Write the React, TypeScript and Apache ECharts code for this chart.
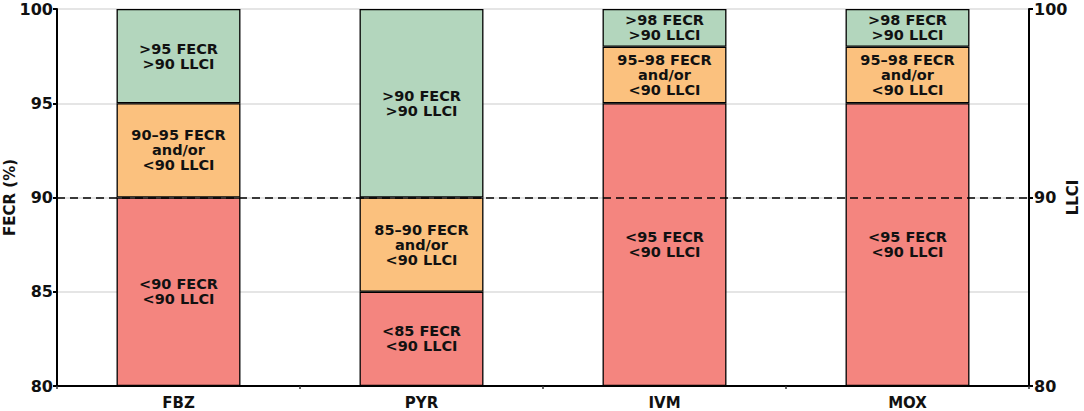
import React, { useEffect, useRef } from "react";
import * as echarts from "echarts";

const categories = ["FBZ", "PYR", "IVM", "MOX"];
const baseValues = [80, 80, 80, 80];
const redValues = [10, 5, 15, 15];
const orangeValues = [5, 5, 3, 3];
const greenValues = [5, 10, 2, 2];
const redLabels = ["<90 FECR\n<90 LLCI", "<85 FECR\n<90 LLCI", "<95 FECR\n<90 LLCI", "<95 FECR\n<90 LLCI"];
const orangeLabels = ["90–95 FECR\nand/or\n<90 LLCI", "85–90 FECR\nand/or\n<90 LLCI", "95–98 FECR\nand/or\n<90 LLCI", "95–98 FECR\nand/or\n<90 LLCI"];
const greenLabels = [">95 FECR\n>90 LLCI", ">90 FECR\n>90 LLCI", ">98 FECR\n>90 LLCI", ">98 FECR\n>90 LLCI"];
const leftTicks = [80, 85, 90, 95, 100];
const rightTicks = [80, 90, 100];
const thresholdValue = 90;

const FONT = "DejaVu Sans";

export default function App() {
  const ref = useRef<HTMLDivElement>(null);
  useEffect(() => {
    if (!ref.current) return;
    const chart = echarts.init(ref.current, undefined, { renderer: "svg" });
    const seg = (name: string, values: number[], labels: string[], color: string) => ({
      name,
      type: "bar",
      stack: "s",
      barWidth: "51%",
      z: 3,
      data: values,
      itemStyle: { color, borderColor: "#000", borderWidth: 1.3 },
      label: {
        show: true,
        position: "inside",
        formatter: (p: any) => labels[p.dataIndex],
        color: "#111",
        fontFamily: FONT,
        fontWeight: "bold",
        fontSize: 14.5,
        lineHeight: 15,
      },
    });
    chart.setOption({
      animation: false,
      grid: { left: 57, right: 55, top: 9, bottom: 25, containLabel: false, outerBoundsMode: "none" },
      xAxis: {
        type: "category",
        data: categories,
        axisLine: { lineStyle: { color: "#000", width: 2 } },
        axisTick: { show: true, length: 3, lineStyle: { color: "#333", width: 1.5 } },
        axisLabel: { color: "#111", fontFamily: FONT, fontWeight: "bold", fontSize: 15, margin: 9 },
      },
      yAxis: [
        {
          type: "value",
          min: leftTicks[0],
          max: leftTicks[leftTicks.length - 1],
          interval: 5,
          name: "FECR (%)",
          nameLocation: "middle",
          nameRotate: 90,
          nameGap: 40,
          nameMoveOverlap: false,
          nameTextStyle: { color: "#111", fontFamily: FONT, fontWeight: "bold", fontSize: 15 },
          axisLine: { show: true, lineStyle: { color: "#000", width: 2 } },
          axisTick: { show: true, length: 4, lineStyle: { color: "#000", width: 2 } },
          axisLabel: { color: "#111", fontFamily: FONT, fontWeight: "bold", fontSize: 16, margin: 4 },
          splitLine: { show: true, lineStyle: { color: "#dcdcdc", width: 1.5 } },
        },
        {
          type: "value",
          min: rightTicks[0],
          max: rightTicks[rightTicks.length - 1],
          interval: 10,
          name: "LLCI",
          nameLocation: "middle",
          nameRotate: 90,
          nameGap: 36,
          nameMoveOverlap: false,
          position: "right",
          nameTextStyle: { color: "#111", fontFamily: FONT, fontWeight: "bold", fontSize: 15 },
          axisLine: { show: true, lineStyle: { color: "#000", width: 2 } },
          axisTick: { show: true, length: 4, lineStyle: { color: "#000", width: 2 } },
          axisLabel: { color: "#111", fontFamily: FONT, fontWeight: "bold", fontSize: 16, margin: 5 },
          splitLine: { show: false },
        },
      ],
      series: [
        {
          name: "threshold",
          type: "line",
          data: [],
          z: 1,
          silent: true,
          markLine: {
            silent: true,
            symbol: ["none", "none"],
            label: { show: false },
            lineStyle: { color: "#000", type: [8, 5], width: 1.5 },
            data: [{ yAxis: thresholdValue }],
          },
        },
        {
          name: "base",
          type: "bar",
          stack: "s",
          barWidth: "51%",
          silent: true,
          data: baseValues,
          itemStyle: { color: "transparent", borderWidth: 0 },
        },
        seg("red", redValues, redLabels, "#f4857f"),
        seg("orange", orangeValues, orangeLabels, "#fbc17e"),
        seg("green", greenValues, greenLabels, "#b3d6bd"),
      ],
    });
    return () => chart.dispose();
  }, []);
  return <div ref={ref} style={{ position: "absolute", left: 0, top: 0, width: 1084, height: 411 }} />;
}
